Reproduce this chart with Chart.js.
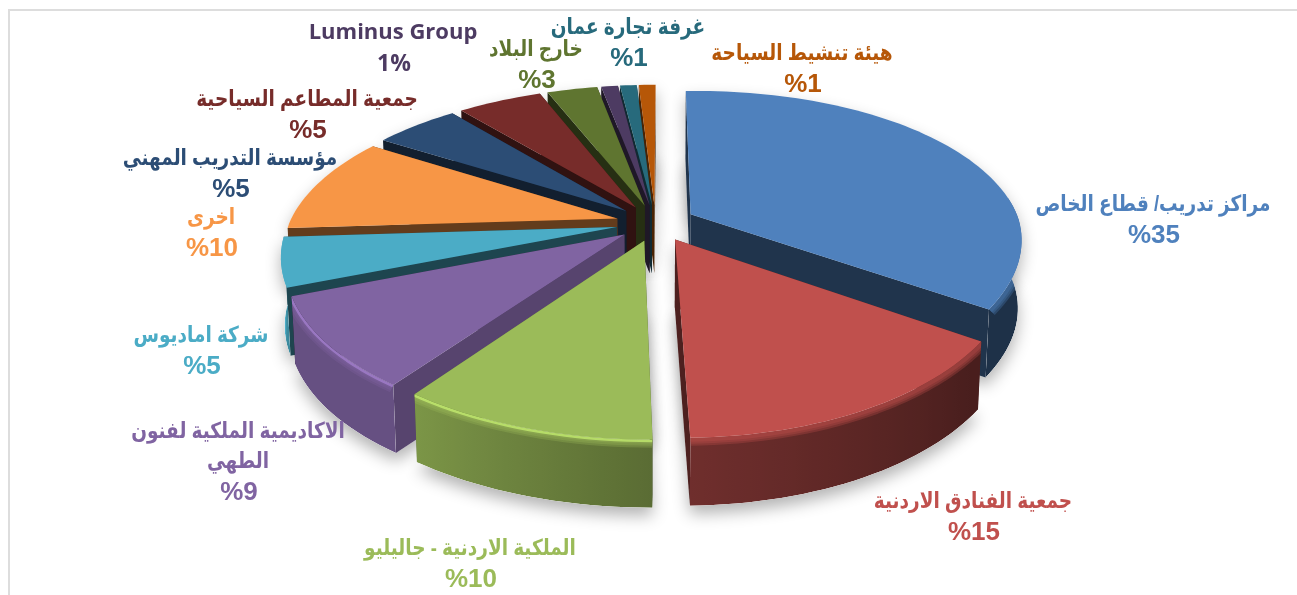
<!DOCTYPE html>
<html lang="ar">
<head>
<meta charset="utf-8">
<style>
  html, body { margin: 0; background: #fff; }
  #wrap { position: relative; width: 1297px; height: 595px; overflow: hidden; }
  #frame { position: absolute; left: 8px; top: 9px; right: 0; bottom: 0; border-left: 2px solid #ddd; border-top: 2px solid #ddd; }
  canvas { position: absolute; left: 0; top: 0; }
</style>
</head>
<body>
<div id="wrap"><div id="frame"></div><canvas id="pie" width="1297" height="595"></canvas></div>
<script src="https://cdn.jsdelivr.net/npm/chart.js@4"></script>
<script>
const categories = [
  'مراكز تدريب/ قطاع الخاص',
  'جمعية الفنادق الاردنية',
  'الملكية الاردنية - جاليليو',
  ['الاكاديمية الملكية لفنون', 'الطهي'],
  'شركة اماديوس',
  'اخرى',
  'مؤسسة التدريب المهني',
  'جمعية المطاعم السياحية',
  'خارج البلاد',
  'Luminus Group',
  'غرفة تجارة عمان',
  'هيئة تنشيط السياحة'
];
const shares = [35, 15, 10, 9, 5, 10, 5, 5, 3, 1, 1, 1];
const sliceColors = ['#4F81BD', '#C0504D', '#9BBB59', '#8064A2', '#4BACC6', '#F79646',
  '#2C4D75', '#772C2A', '#5F7530', '#4D3B62', '#276A7C', '#B65708'];

// where each label sits: centre x, y of the first line
const labelSpots = [[1153, 205], [973, 502], [470, 549], [238, 432], [201, 336], [211, 218],
  [230, 159], [307, 100], [536, 50], [393, 33], [628, 28], [802, 54]];

// camera for the tilted pie
const cam = { x: 653, y: 226, rx: 328, ry: 151, k: 0.2, depth: 68, squeeze: 0.99 };

function project(px, py) {
  const w = 1 + cam.k * py;
  // the picture is slightly skewed, the front leans right and the right side sits higher
  const skew = 2.5 + (py < 0 ? -11.5 * py : py) + (py < 0 && px > 0 ? 19 * px * py : 0);
  return {
    x: cam.x + skew + cam.rx * px / w,
    y: cam.y - 3 - 4 * Math.max(px, 0) - cam.ry * py / w
  };
}
function lower(p) {
  return { x: cam.x + (p.x - cam.x) * cam.squeeze, y: p.y + cam.depth };
}
function shade(hex, f) {
  const n = parseInt(hex.slice(1), 16);
  const c = [n >> 16, (n >> 8) & 255, n & 255].map((v) => Math.min(255, Math.round(v * f)));
  return `rgb(${c[0]},${c[1]},${c[2]})`;
}
function rimShade(deg) {
  if (deg <= 130) return 0.38;
  if (deg <= 180) return 0.38 + (deg - 130) / 50 * 0.2;
  if (deg <= 216) return 0.58 + (deg - 180) / 36 * 0.22;
  if (deg <= 250) return 0.8;
  return 1.05;
}
function rimGlow(deg) {
  if (deg < 165) return 0;
  return deg < 250 ? 0.28 : 0;
}
function wallShade(deg) {
  return deg > 200 && deg < 235 ? 0.68 : 0.4;
}
function tracePoly(ctx, pts) {
  ctx.beginPath();
  pts.forEach((p, i) => (i ? ctx.lineTo(p.x, p.y) : ctx.moveTo(p.x, p.y)));
}
function fillPoly(ctx, pts, style) {
  tracePoly(ctx, pts);
  ctx.closePath();
  ctx.fillStyle = style;
  ctx.fill();
}

// turn one arc element into its projected outline
function sliceShape(arc) {
  const mid = (arc.startAngle + arc.endAngle) / 2;
  const gap = arc.options.offset / 4 / arc.outerRadius;
  const ox = Math.cos(mid) * gap;
  const oy = -Math.sin(mid) * gap;
  const steps = Math.max(2, Math.ceil((arc.endAngle - arc.startAngle) / 0.03));
  const rim = [];
  for (let i = 0; i <= steps; i++) {
    const a = arc.startAngle + (arc.endAngle - arc.startAngle) * i / steps;
    const p = project(ox + Math.cos(a), oy - Math.sin(a));
    p.deg = (a + Math.PI / 2) * 180 / Math.PI;
    rim.push(p);
  }
  return {
    apex: project(ox, oy),
    rim,
    rank: -Math.sin(mid),
    leftSide: Math.cos(mid) < 0,
    color: arc.options.backgroundColor
  };
}

function drawOuterWall(ctx, s) {
  const front = s.rim.filter((p) => p.deg > 85 && p.deg < 267);
  if (front.length < 2) return;
  const xs = front.map((p) => p.x);
  const minX = Math.min(...xs);
  const maxX = Math.max(...xs);
  const g = ctx.createLinearGradient(minX, 0, maxX, 0);
  front.forEach((p) => g.addColorStop((p.x - minX) / (maxX - minX), shade(s.color, rimShade(p.deg))));
  const wall = [...front, ...front.slice().reverse().map(lower)];

  ctx.save();
  tracePoly(ctx, wall);
  ctx.closePath();
  ctx.clip();
  fillPoly(ctx, wall, g);
  // soft bevel below the top edge
  ctx.lineJoin = 'round';
  ctx.strokeStyle = s.color;
  [16, 12, 8].forEach((w) => {
    ctx.globalAlpha = 0.3;
    ctx.lineWidth = w;
    tracePoly(ctx, front);
    ctx.stroke();
  });
  const glow = rimGlow(front[Math.floor(front.length / 2)].deg);
  if (glow) {
    ctx.strokeStyle = shade(s.color, 1 + glow);
    ctx.globalAlpha = 0.75;
    ctx.lineWidth = 5;
    tracePoly(ctx, front);
    ctx.stroke();
  }
  ctx.restore();
}

function drawSlice(ctx, s) {
  const first = s.rim[0];
  const last = s.rim[s.rim.length - 1];
  // the two cut faces, the one turned away from us first
  (s.leftSide ? [last, first] : [first, last]).forEach((p) => {
    fillPoly(ctx, [s.apex, p, lower(p), lower(s.apex)], shade(s.color, wallShade(p.deg)));
  });
  drawOuterWall(ctx, s);
  fillPoly(ctx, [s.apex, ...s.rim], s.color);
}

const pie3d = {
  id: 'pie3d',
  beforeDatasetsDraw(chart) {
    const { ctx } = chart;
    const shapes = chart.getDatasetMeta(0).data.map(sliceShape);
    // soft ground shadow
    ctx.save();
    ctx.shadowColor = 'rgba(0,0,0,0.3)';
    ctx.shadowBlur = 16;
    ctx.shadowOffsetY = 8;
    shapes.forEach((s) => {
      fillPoly(ctx, [s.apex, ...s.rim].map(lower), '#fff');
      fillPoly(ctx, [s.apex, ...s.rim], '#fff');
    });
    ctx.restore();
    // far slices first
    shapes.slice().sort((a, b) => b.rank - a.rank).forEach((s) => drawSlice(ctx, s));
    return false;
  },
  afterDraw(chart) {
    const { ctx } = chart;
    ctx.save();
    ctx.textAlign = 'center';
    ctx.textBaseline = 'middle';
    categories.forEach((name, i) => {
      const [x, y] = labelSpots[i];
      const latin = name === 'Luminus Group';
      const lines = [].concat(name);
      ctx.fillStyle = sliceColors[i];
      ctx.direction = latin ? 'ltr' : 'rtl';
      ctx.font = latin ? 'bold 22px "Open Sans"' : 'bold 18.5px "Liberation Sans", "DejaVu Sans"';
      lines.forEach((line, n) => {
        // the Arabic in the original runs taller than this font
        ctx.save();
        ctx.translate(x, y + n * 30);
        ctx.scale(1, latin ? 1 : 1.2);
        ctx.fillText(line, 0, 0);
        ctx.restore();
      });
      ctx.direction = 'ltr';
      ctx.font = latin ? 'bold 23px "Open Sans"' : 'bold 26px "Liberation Sans"';
      const pct = latin ? `${shares[i]}%` : `%${shares[i]}`;
      ctx.fillText(pct, x + 1, y + lines.length * 30 + 1);
    });
    ctx.restore();
  }
};

new Chart(document.getElementById('pie'), {
  type: 'pie',
  data: {
    labels: categories,
    datasets: [{ data: shares, backgroundColor: sliceColors, borderWidth: 0, offset: 116 }]
  },
  options: {
    responsive: false,
    animation: false,
    plugins: { legend: { display: false }, tooltip: { enabled: false } }
  },
  plugins: [pie3d]
});
</script>
</body>
</html>
